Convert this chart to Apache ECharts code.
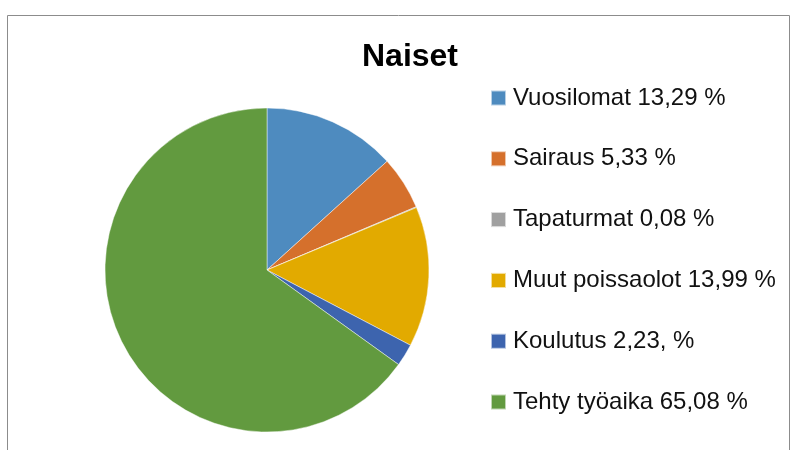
<!DOCTYPE html>
<html>
<head>
<meta charset="utf-8">
<script src="https://cdn.jsdelivr.net/npm/echarts@6/dist/echarts.min.js"></script>
<style>
  html, body { margin: 0; padding: 0; background: #fff; }
  #chart { width: 794px; height: 450px; }
</style>
</head>
<body>
<div id="chart"></div>
<script>
// Data
const categories = ["Vuosilomat", "Sairaus", "Tapaturmat", "Muut poissaolot", "Koulutus", "Tehty työaika"];
const values = [13.29, 5.33, 0.08, 13.99, 2.23, 65.08];
const legendLabels = ["Vuosilomat 13,29 %", "Sairaus 5,33 %", "Tapaturmat 0,08 %", "Muut poissaolot 13,99 %", "Koulutus 2,23, %", "Tehty työaika 65,08 %"];
const colors = ["#4e8bbf", "#d5702c", "#a0a0a0", "#e2aa00", "#3d64ae", "#629a3f"];

const chart = echarts.init(document.getElementById("chart"));

const labelOf = {};
categories.forEach((c, i) => { labelOf[c] = legendLabels[i]; });

chart.setOption({
  animation: false,
  color: colors,
  title: {
    text: "Naiset",
    left: 405,
    top: 36,
    textAlign: "center",
    textStyle: { fontFamily: "Liberation Sans", fontSize: 32, fontWeight: "bold", color: "#000" },
  },
  graphic: [
    {
      type: "rect",
      shape: { x: 7.5, y: 15.5, width: 782, height: 460 },
      style: { fill: "none", stroke: "#8c8c8c", lineWidth: 1 },
    },
  ],
  legend: {
    orient: "vertical",
    left: 490,
    top: 86,
    padding: 0,
    itemWidth: 15,
    itemHeight: 15,
    itemGap: 36.8,
    icon: "rect",
    data: categories,
    formatter: (name) => labelOf[name],
    textStyle: { fontFamily: "Liberation Sans", fontSize: 24, lineHeight: 24, color: "#111", padding: [0, 0, 0, 2] },
  },
  series: [
    {
      type: "pie",
      center: [267, 270],
      radius: 162,
      startAngle: 90,
      clockwise: true,
      label: { show: false },
      labelLine: { show: false },
      itemStyle: { borderColor: "rgba(255,255,255,0.6)", borderWidth: 0.75 },
      data: categories.map((c, i) => ({ name: c, value: values[i] })),
    },
  ],
});
</script>
</body>
</html>
